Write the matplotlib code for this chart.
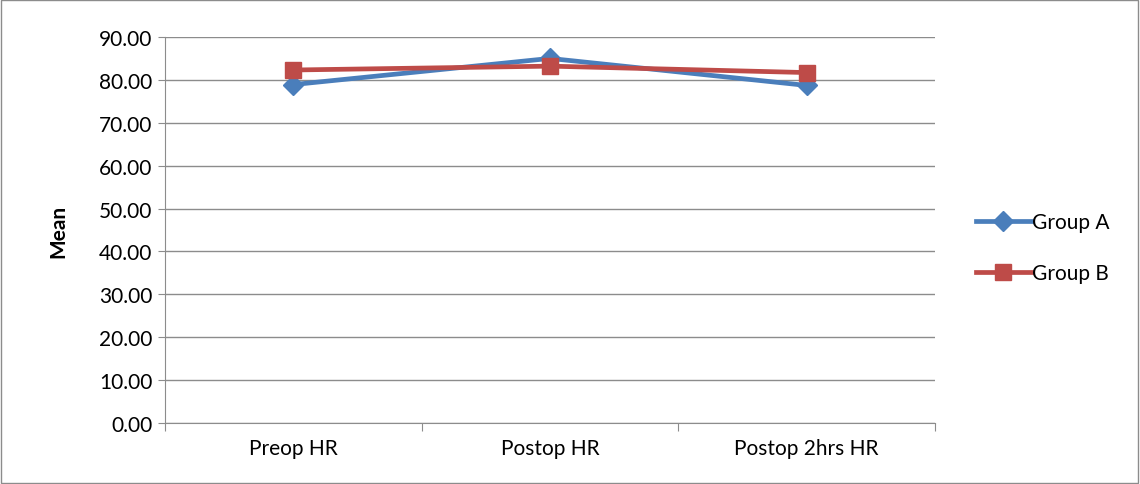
import matplotlib.pyplot as plt
from matplotlib.patches import Rectangle
import numpy as np

categories = ["Preop HR", "Postop HR", "Postop 2hrs HR"]
group_a = [78.9, 85.0, 78.7]
group_b = [82.3, 83.2, 81.7]

plt.rcParams['font.family'] = ['Lato', 'DejaVu Sans']

fig = plt.figure(figsize=(11.4, 4.85), dpi=100)
ax = fig.add_axes([0.1447, 0.1258, 0.6754, 0.7959])

x = np.arange(len(categories))
ax.plot(x, group_a, color="#4A7EBB", lw=3.4, marker="D", ms=10, label="Group A", zorder=3)
ax.plot(x, group_b, color="#BE4B48", lw=3.4, marker="s", ms=12, label="Group B", zorder=4)

ax.set_xlim(-0.5, len(categories) - 0.5)
ax.set_ylim(0, 90)
ax.set_yticks(np.arange(0, 91, 10))
ax.set_yticklabels([f"{v:.2f}" for v in np.arange(0, 91, 10)], fontsize=15)
ax.yaxis.grid(True, color="#8c8c8c", lw=1)
ax.set_axisbelow(True)

# category boundaries get tick marks, labels sit between them
ax.set_xticks(np.arange(-0.5, len(categories), 1.0))
ax.set_xticklabels([])
ax.set_xticks(x, minor=True)
ax.set_xticklabels(categories, minor=True, fontsize=15)
ax.tick_params(axis="x", which="major", length=6, color="#8c8c8c")
ax.tick_params(axis="x", which="minor", length=0, pad=11)
ax.tick_params(axis="y", length=5, color="#8c8c8c", pad=4)

for side in ["top", "right"]:
    ax.spines[side].set_visible(False)
for side in ["left", "bottom"]:
    ax.spines[side].set_color("#8c8c8c")

ax.set_ylabel("Mean", fontsize=15, fontweight="bold", labelpad=22)

fig.legend(loc="center left", bbox_to_anchor=(0.84, 0.487), frameon=False,
           fontsize=15, handlelength=2.6, handletextpad=0.05, labelspacing=1.5)

fig.patches.append(Rectangle((0.001, 0.002), 0.997, 0.996, transform=fig.transFigure,
                             fill=False, edgecolor="#8c8c8c", lw=1))

fig.savefig("out.png", dpi=100)
